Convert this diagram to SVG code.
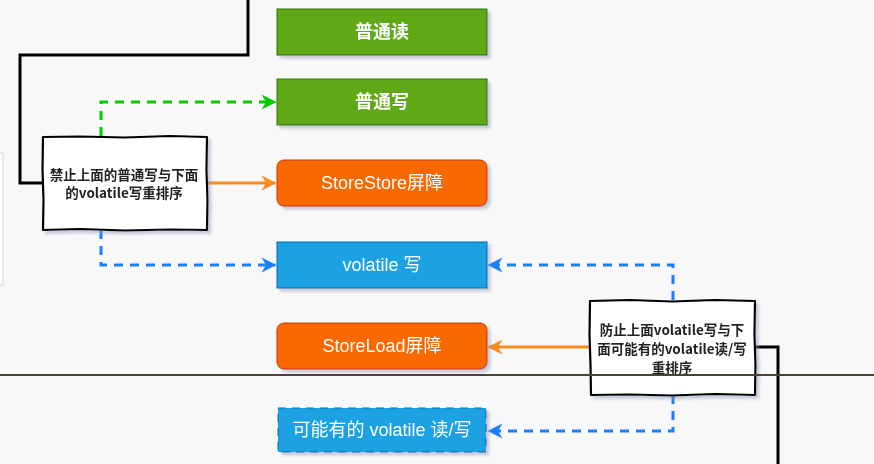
<svg xmlns="http://www.w3.org/2000/svg" width="874" height="464" viewBox="0 0 874 464">
<style>
.bg{fill:#f8f8f9}
.lbl{font-family:"Liberation Sans","Noto Sans CJK SC",sans-serif;font-size:18px;fill:#ffffff;text-anchor:middle;dominant-baseline:central}
.note{fill:#ffffff;stroke:#000000;stroke-width:2.2;stroke-linejoin:round}
.ntxt{font-family:"Noto Sans CJK SC",sans-serif;font-size:13.5px;font-weight:bold;fill:#222222;text-anchor:middle;dominant-baseline:central}
.green{fill:#60a917;stroke:#2d7600;stroke-width:1}
.orange{fill:#fa6800;stroke:#c73500;stroke-width:1}
.blue{fill:#1ba1e2;stroke:#006eaf;stroke-width:1}
.conn{fill:none;stroke-width:3}
</style>
<defs>
<filter id="sh" x="-10%" y="-10%" width="130%" height="140%">
<feDropShadow dx="3" dy="3" stdDeviation="1.5" flood-color="#8890b0" flood-opacity="0.45"/>
</filter>
<marker id="aG" viewBox="0 0 10 10" refX="9" refY="5" markerWidth="15" markerHeight="15" markerUnits="userSpaceOnUse" orient="auto" overflow="visible">
<path d="M0,0 L10,5 L0,10 L3,5 Z" fill="#00cc00"/>
</marker>
<marker id="aO" viewBox="0 0 10 10" refX="9" refY="5" markerWidth="15" markerHeight="15" markerUnits="userSpaceOnUse" orient="auto" overflow="visible">
<path d="M0,0 L10,5 L0,10 L3,5 Z" fill="#fa8a1e"/>
</marker>
<marker id="aB" viewBox="0 0 10 10" refX="9" refY="5" markerWidth="15" markerHeight="15" markerUnits="userSpaceOnUse" orient="auto" overflow="visible">
<path d="M0,0 L10,5 L0,10 L3,5 Z" fill="#1a7fff"/>
</marker>
</defs>
<rect class="bg" x="0" y="0" width="874" height="464"/>
<rect x="-4" y="153" width="7" height="132" fill="#ffffff" stroke="#d8d8dc" stroke-width="1"/>

<g id="connectors">
<polyline class="conn" stroke="#000000" points="248,0 248,55 20,55 20,183 43,183"/>
<polyline class="conn" stroke="#000000" points="755,347 778,347 778,464"/>
<polyline class="conn" stroke="#00cc00" stroke-dasharray="9,7" points="101,136 101,102 275,102" marker-end="url(#aG)"/>
<polyline class="conn" stroke="#fa8a1e" stroke-width="2.5" points="207,183 275,183" marker-end="url(#aO)"/>
<polyline class="conn" stroke="#1a7fff" stroke-dasharray="9,7" points="101,230 101,265 275,265" marker-end="url(#aB)"/>
<polyline class="conn" stroke="#1a7fff" stroke-dasharray="9,7" points="673,300 673,265 489,265" marker-end="url(#aB)"/>
<polyline class="conn" stroke="#fa8a1e" stroke-width="2.5" points="590,347 489,347" marker-end="url(#aO)"/>
<polyline class="conn" stroke="#1a7fff" stroke-dasharray="9,7" points="673,395 673,431 489,431" marker-end="url(#aB)"/>
</g>

<g id="n-putong-du" filter="url(#sh)">
<rect class="green" x="277" y="9" width="210" height="46"/>
<text class="lbl" x="382" y="32" font-weight="bold">普通读</text>
</g>
<g id="n-putong-xie" filter="url(#sh)">
<rect class="green" x="277" y="79" width="210" height="46"/>
<text class="lbl" x="382" y="102" font-weight="bold">普通写</text>
</g>
<g id="n-storestore" filter="url(#sh)">
<rect class="orange" x="277" y="160" width="210" height="46" rx="7"/>
<text class="lbl" x="382" y="183">StoreStore屏障</text>
</g>
<g id="n-volatile-xie" filter="url(#sh)">
<rect class="blue" x="277" y="242" width="210" height="46"/>
<text class="lbl" x="382" y="265">volatile 写</text>
</g>
<g id="n-storeload" filter="url(#sh)">
<rect class="orange" x="277" y="323" width="210" height="46" rx="7"/>
<text class="lbl" x="382" y="346">StoreLoad屏障</text>
</g>
<g id="n-maybe-volatile" filter="url(#sh)">
<rect class="blue" x="278" y="408" width="208" height="44" stroke-width="3" stroke-dasharray="8,6"/>
<text class="lbl" x="382" y="430">可能有的 volatile 读/写</text>
</g>

<g id="note-left" filter="url(#sh)">
<path class="note" d="M43,137 L80,136.5 L125,137.5 L170,136 L207,137 L206.5,170 L207.5,200 L207,230 L170,229.5 L125,230.5 L80,229 L43,230 L43.5,200 L42.5,170 Z"/>
<text class="ntxt" x="124" y="174">禁止上面的普通写与下面</text>
<text class="ntxt" x="124" y="192">的volatile写重排序</text>
</g>
<g id="note-right" filter="url(#sh)">
<path class="note" d="M590,301 L630,300 L672,301.5 L715,300 L755,301 L754.5,335 L755.5,365 L755,395 L715,394 L672,395.5 L630,394.5 L591,395 L590.5,365 L589.5,335 Z"/>
<text class="ntxt" x="672" y="329" font-size="13">防止上面volatile写与下</text>
<text class="ntxt" x="672" y="348" font-size="13">面可能有的volatile读/写</text>
<text class="ntxt" x="672" y="367" font-size="13">重排序</text>
</g>

<line x1="0" y1="375" x2="874" y2="375" stroke="#4a443c" stroke-width="2"/>
</svg>
